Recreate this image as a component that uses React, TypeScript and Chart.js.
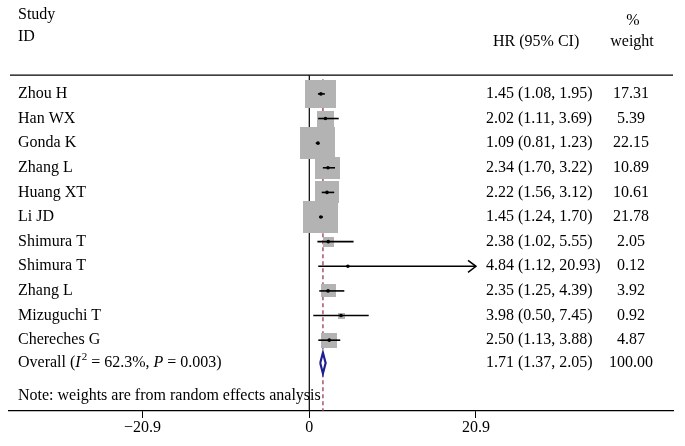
import React, { useEffect, useRef } from "react";
import { Chart, registerables } from "chart.js";

Chart.register(...registerables);

// ---- data ----
const studies = [
  "Zhou H",
  "Han WX",
  "Gonda K",
  "Zhang L",
  "Huang XT",
  "Li JD",
  "Shimura T",
  "Shimura T",
  "Zhang L",
  "Mizuguchi T",
  "Chereches G",
];
const hr = [1.45, 2.02, 1.09, 2.34, 2.22, 1.45, 2.38, 4.84, 2.35, 3.98, 2.5];
const ciLow = [1.08, 1.11, 0.81, 1.7, 1.56, 1.24, 1.02, 1.12, 1.25, 0.5, 1.13];
const ciHigh = [1.95, 3.69, 1.23, 3.22, 3.12, 1.7, 5.55, 20.93, 4.39, 7.45, 3.88];
const weights = [17.31, 5.39, 22.15, 10.89, 10.61, 21.78, 2.05, 0.12, 3.92, 0.92, 4.87];

const overallHR = 1.71;
const overallLow = 1.37;
const overallHigh = 2.05;
const overallWeight = 100.0;
const overallI2 = "62.3%";
const overallP = "0.003";

const xTicks = [-20.9, 0, 20.9];
const noteText = "Note: weights are from random effects analysis";

// ---- layout constants ----
const X_MIN = -37.65;
const X_MAX = 45.6;
const CLIP = 20.9;
const Y_MIN = -3.61;
const Y_MAX = 12.876;
const OVERALL_ROW = 10.93;
const NOTE_ROW = 12.27;
const TOP_RULE_ROW = -0.762;
const DASH_TOP_ROW = -0.6;
const FONT = '"Liberation Serif", "Times New Roman", serif';
const BOX_COLOR = "#b3b3b3";

function makeBox(w: number): HTMLCanvasElement {
  const c = document.createElement("canvas");
  const bw = Math.max(1, Math.round(7.45 * Math.sqrt(w)));
  const bh = Math.max(1, Math.round(6.75 * Math.sqrt(w)));
  c.width = bw;
  c.height = bh;
  const g = c.getContext("2d")!;
  g.fillStyle = BOX_COLOR;
  g.fillRect(0, 0, bw, bh);
  return c;
}

const fmtTick = (v: number) => (v < 0 ? "\u2212" + Math.abs(v) : String(v));

const textPlugin = {
  id: "forestText",
  afterDatasetsDraw(chart: any) {
    const { ctx, scales } = chart;
    const x = scales.x;
    const y = scales.y;
    ctx.save();
    ctx.fillStyle = "#000";
    ctx.font = `16px ${FONT}`;
    ctx.textBaseline = "middle";

    // headers
    ctx.textAlign = "left";
    ctx.fillText("Study", 18, 15);
    ctx.fillText("ID", 18, 37);
    ctx.fillText("HR (95% CI)", 493, 42);
    ctx.textAlign = "center";
    ctx.fillText("%", 633, 21);
    ctx.fillText("weight", 632, 42);

    // top rule
    const ry = y.getPixelForValue(TOP_RULE_ROW);
    ctx.strokeStyle = "#000";
    ctx.lineWidth = 1.2;
    ctx.beginPath();
    ctx.moveTo(x.left + 1, ry);
    ctx.lineTo(x.right, ry);
    ctx.stroke();

    // study rows
    studies.forEach((s, i) => {
      const py = y.getPixelForValue(i);
      ctx.textAlign = "left";
      ctx.fillText(s, 18, py);
      ctx.fillText(
        `${hr[i].toFixed(2)} (${ciLow[i].toFixed(2)}, ${ciHigh[i].toFixed(2)})`,
        486,
        py
      );
      ctx.textAlign = "center";
      ctx.fillText(weights[i].toFixed(2), 631, py);
    });

    // overall row
    const oy = y.getPixelForValue(OVERALL_ROW);
    ctx.textAlign = "left";
    let cx = 18;
    const piece = (t: string, font: string, dy = 0) => {
      ctx.font = font;
      ctx.fillText(t, cx, oy + dy);
      cx += ctx.measureText(t).width;
    };
    const reg = `16px ${FONT}`;
    const ital = `italic 16px ${FONT}`;
    piece("Overall (", reg);
    piece("I", ital);
    cx += 1;
    piece("2", `11px ${FONT}`, -6);
    piece(" = " + overallI2 + ", ", reg);
    piece("P", ital);
    piece(" = " + overallP + ")", reg);
    ctx.font = reg;
    ctx.fillText(
      `${overallHR.toFixed(2)} (${overallLow.toFixed(2)}, ${overallHigh.toFixed(2)})`,
      486,
      oy
    );
    ctx.textAlign = "center";
    ctx.fillText(overallWeight.toFixed(2), 631, oy);

    // note
    ctx.textAlign = "left";
    ctx.fillText(noteText, 18, y.getPixelForValue(NOTE_ROW));

    // arrows for clipped confidence intervals
    ctx.strokeStyle = "#000";
    ctx.lineWidth = 1.5;
    ciHigh.forEach((h, i) => {
      if (h > CLIP) {
        const px = x.getPixelForValue(CLIP);
        const py = y.getPixelForValue(i);
        ctx.beginPath();
        ctx.moveTo(px - 8, py - 6);
        ctx.lineTo(px, py);
        ctx.lineTo(px - 8, py + 6);
        ctx.stroke();
      }
    });
    ctx.restore();
  },
};

export default function App() {
  const ref = useRef<HTMLCanvasElement | null>(null);

  useEffect(() => {
    document.body.style.margin = "0";
    const canvas = ref.current!;
    const boxes = weights.map((w) => makeBox(w));

    const ciSets = studies.map((_, i) => ({
      type: "line" as const,
      showLine: true,
      data: [
        { x: ciLow[i], y: i },
        { x: Math.min(ciHigh[i], CLIP), y: i },
      ],
      borderColor: "#000",
      borderWidth: 1.6,
      pointRadius: 0,
      fill: false,
      order: 3,
    }));

    const chart = new Chart(canvas, {
      type: "scatter",
      data: {
        datasets: [
          {
            type: "line",
            showLine: true,
            data: [
              { x: 0, y: TOP_RULE_ROW },
              { x: 0, y: Y_MAX },
            ],
            borderColor: "#000",
            borderWidth: 1.2,
            pointRadius: 0,
            order: 7,
          } as any,
          {
            type: "line",
            showLine: true,
            data: [
              { x: overallHR, y: DASH_TOP_ROW },
              { x: overallHR, y: Y_MAX },
            ],
            borderColor: "#9b3a58",
            borderWidth: 1.3,
            borderDash: [4, 3],
            pointRadius: 0,
            order: 6,
          } as any,
          {
            type: "scatter",
            data: studies.map((_, i) => ({ x: hr[i], y: i })),
            pointStyle: boxes,
            pointRadius: 1,
            order: 5,
          } as any,
          ...(ciSets as any[]),
          {
            type: "scatter",
            data: studies.map((_, i) => ({ x: hr[i], y: i })),
            pointStyle: "circle",
            pointRadius: 1.8,
            backgroundColor: "#000",
            borderColor: "#000",
            borderWidth: 0,
            order: 2,
          } as any,
          {
            type: "line",
            showLine: true,
            data: [
              { x: overallLow, y: OVERALL_ROW },
              { x: overallHR, y: OVERALL_ROW - 0.42 },
              { x: overallHigh, y: OVERALL_ROW },
              { x: overallHR, y: OVERALL_ROW + 0.42 },
              { x: overallLow, y: OVERALL_ROW },
            ],
            borderColor: "#1f1f8f",
            backgroundColor: "#ffffff",
            fill: "shape",
            borderWidth: 2.2,
            pointRadius: 0,
            tension: 0,
            order: 1,
          } as any,
        ],
      },
      options: {
        responsive: false,
        animation: false,
        devicePixelRatio: 1,
        layout: { padding: { left: 9, right: 12, top: 0, bottom: 8.8 } },
        plugins: {
          legend: { display: false },
          tooltip: { enabled: false },
        },
        scales: {
          x: {
            type: "linear",
            min: X_MIN,
            max: X_MAX,
            afterBuildTicks: (axis: any) => {
              axis.ticks = xTicks.map((v) => ({ value: v }));
            },
            ticks: {
              callback: (v: any) => fmtTick(Number(v)),
              font: { family: FONT, size: 16 },
              color: "#000",
              padding: 0,
              autoSkip: false,
              maxRotation: 0,
            },
            grid: {
              drawOnChartArea: false,
              drawTicks: true,
              tickLength: 7,
              color: "#000",
              lineWidth: 1,
            },
            border: { display: true, color: "#000", width: 1.2 },
          },
          y: {
            type: "linear",
            display: false,
            min: Y_MIN,
            max: Y_MAX,
            reverse: true,
          },
        },
      } as any,
      plugins: [textPlugin],
    });

    return () => chart.destroy();
  }, []);

  return (
    <div style={{ width: 685, height: 446 }}>
      <canvas ref={ref} width={685} height={446} style={{ display: "block" }} />
    </div>
  );
}
